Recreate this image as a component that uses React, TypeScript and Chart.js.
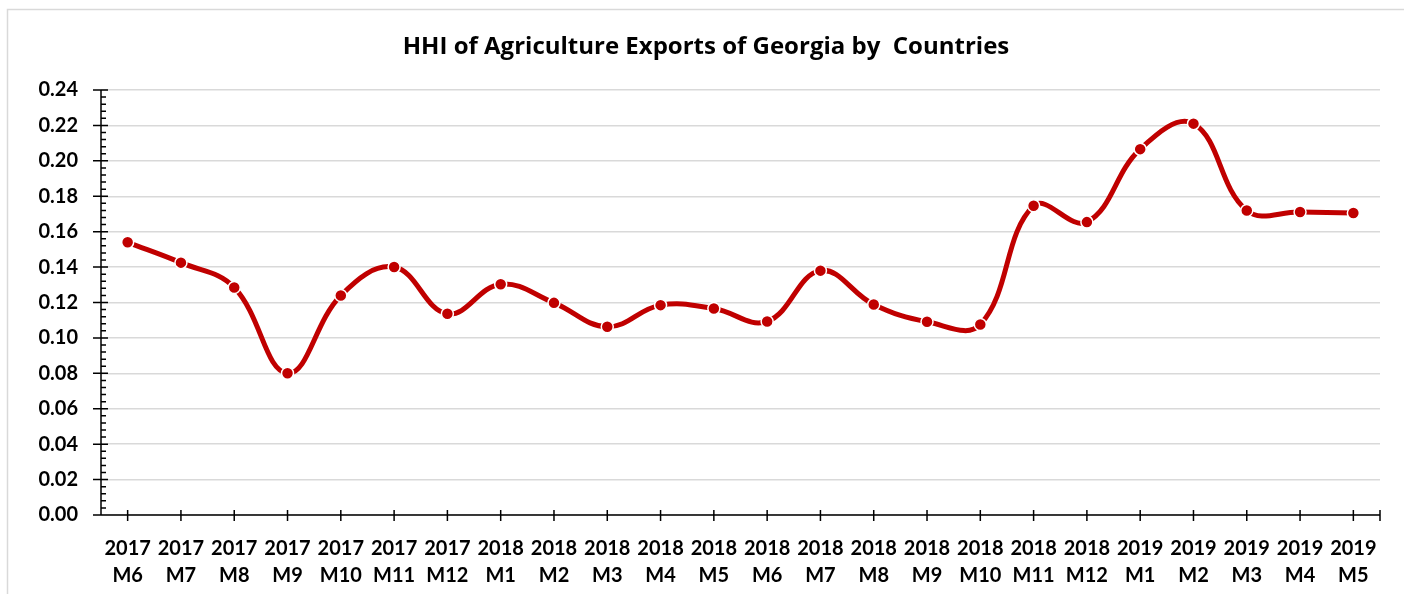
import React, { useEffect, useRef } from "react";
import { Chart, registerables } from "chart.js";

Chart.register(...registerables);

const years = ["2017","2017","2017","2017","2017","2017","2017","2018","2018","2018","2018","2018","2018","2018","2018","2018","2018","2018","2018","2019","2019","2019","2019","2019"];
const months = ["M6","M7","M8","M9","M10","M11","M12","M1","M2","M3","M4","M5","M6","M7","M8","M9","M10","M11","M12","M1","M2","M3","M4","M5"];
const hhiValues = [0.154,0.1425,0.1285,0.080,0.124,0.140,0.1136,0.1303,0.1198,0.1063,0.1185,0.1166,0.1093,0.138,0.1189,0.1091,0.1076,0.1746,0.1654,0.2066,0.221,0.172,0.1711,0.1705];
const yTicks = [0,0.02,0.04,0.06,0.08,0.1,0.12,0.14,0.16,0.18,0.2,0.22,0.24];
const titleText = "HHI of Agriculture Exports of Georgia by  Countries";

const FONT = "Lato, 'Open Sans', sans-serif";
const TITLE_FONT = "'Open Sans', Lato, sans-serif";

const axisPlugin = {
  id: "excelAxes",
  beforeDraw(chart: any) {
    const ctx = chart.ctx;
    ctx.save();
    ctx.strokeStyle = "#d9d9d9";
    ctx.lineWidth = 1.5;
    ctx.beginPath();
    ctx.moveTo(7.5, chart.height + 5);
    ctx.lineTo(7.5, 9.5);
    ctx.lineTo(chart.width + 5, 9.5);
    ctx.stroke();
    ctx.restore();
  },
  beforeDatasetsDraw(chart: any) {
    const ctx = chart.ctx;
    const { left, right, top, bottom } = chart.chartArea;
    const ys = chart.scales.y;
    const xs = chart.scales.x;
    ctx.save();
    ctx.strokeStyle = "#000";
    ctx.lineWidth = 1.5;
    ctx.beginPath();
    ctx.moveTo(left, top);
    ctx.lineTo(left, bottom);
    ctx.moveTo(left, bottom);
    ctx.lineTo(right, bottom);
    for (const v of yTicks) {
      const p = ys.getPixelForValue(v);
      ctx.moveTo(left - 8, p);
      ctx.lineTo(left + 7, p);
    }
    for (let i = 0; i < yTicks.length - 1; i++) {
      const a = yTicks[i], b = yTicks[i + 1];
      for (let k = 1; k < 5; k++) {
        const p = ys.getPixelForValue(a + ((b - a) * k) / 5);
        ctx.moveTo(left, p);
        ctx.lineTo(left + 5, p);
      }
    }
    for (let i = 0; i < years.length; i++) {
      const p = xs.getPixelForValue(i);
      ctx.moveTo(p, bottom - 5);
      ctx.lineTo(p, bottom + 6);
    }
    ctx.moveTo(right, bottom - 5);
    ctx.lineTo(right, bottom + 6);
    ctx.stroke();
    ctx.restore();
  },
  afterDraw(chart: any) {
    const ctx = chart.ctx;
    ctx.save();
    ctx.fillStyle = "#000";
    ctx.font = `bold 24px ${TITLE_FONT}`;
    ctx.textAlign = "center";
    ctx.textBaseline = "middle";
    ctx.fillText(titleText, 706, 47);
    ctx.restore();
  },
};

export default function App() {
  const ref = useRef<HTMLCanvasElement>(null);
  useEffect(() => {
    if (!ref.current) return;
    const labels = years.map((y, i) => [y, months[i]]);
    const chart = new Chart(ref.current, {
      type: "line",
      data: {
        labels,
        datasets: [
          {
            data: hhiValues,
            borderColor: "#c00000",
            backgroundColor: "#c00000",
            borderWidth: 5,
            tension: 0.4,
            pointRadius: 6,
            pointBackgroundColor: "#c00000",
            pointBorderColor: "#ffffff",
            pointBorderWidth: 1.5,
          },
        ],
      },
      options: {
        animation: false,
        responsive: false,
        maintainAspectRatio: false,
        layout: { padding: { left: 0, right: 24, top: 90, bottom: 0 } },
        plugins: {
          legend: { display: false },
          tooltip: { enabled: false },
          title: { display: false },
        },
        scales: {
          x: {
            type: "category",
            offset: true,
            grid: { display: false, drawTicks: false },
            border: { display: false },
            ticks: {
              color: "#000",
              font: { family: FONT, size: 20, weight: "bold", lineHeight: 1.35 },
              padding: 20,
              maxRotation: 0,
              autoSkip: false,
            },
            afterFit(scale: any) {
              scale.height = 79;
            },
          },
          y: {
            min: 0,
            max: 0.24,
            afterBuildTicks(scale: any) {
              scale.ticks = yTicks.map((v) => ({ value: v }));
            },
            grid: { color: "#d9d9d9", lineWidth: 1.5, drawTicks: false },
            border: { display: false },
            ticks: {
              color: "#000",
              font: { family: FONT, size: 20, weight: "bold" },
              padding: 23,
              callback: (v: any) => Number(v).toFixed(2),
            },
            afterFit(scale: any) {
              scale.width = 101;
            },
          },
        },
      },
      plugins: [axisPlugin],
    });
    return () => chart.destroy();
  }, []);
  return (
    <div style={{ position: "fixed", left: 0, top: 0, width: 1404, height: 594, background: "#fff" }}>
      <canvas ref={ref} width={1404} height={594} style={{ display: "block" }} />
    </div>
  );
}
